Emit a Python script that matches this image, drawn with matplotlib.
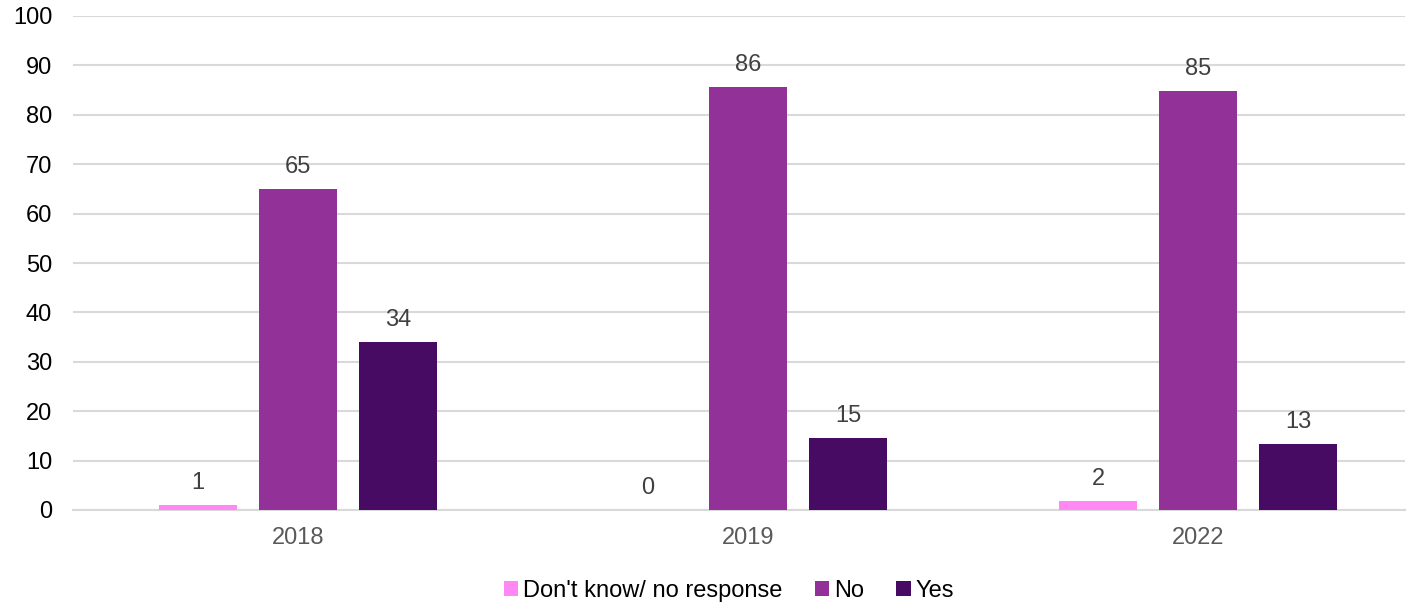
"""Grouped bar chart: Don't know / No / Yes by year."""
import matplotlib.pyplot as plt
import numpy as np

years = ["2018", "2019", "2022"]
dont_know = [1.0, 0.0, 1.8]
no = [65.0, 85.6, 84.8]
yes = [34.0, 14.6, 13.4]

series = [
    ("Don't know/ no response", dont_know, "#ff88f5"),
    ("No", no, "#923198"),
    ("Yes", yes, "#470b63"),
]

plt.rcParams["font.family"] = ["Liberation Sans", "DejaVu Sans"]

fig = plt.figure(figsize=(14.08, 6.02), dpi=100)
ax = fig.add_axes([73 / 1408, 92 / 602, 1332 / 1408, 494 / 602])

x = np.arange(len(years))
width = 0.173
offsets = [-0.222, 0.0, 0.222]

handles = []
for (name, vals, color), off in zip(series, offsets):
    bars = ax.bar(x + off, vals, width, color=color, label=name, zorder=3)
    handles.append(bars)
    for b, v in zip(bars, vals):
        ax.annotate(f"{v:.0f}", (b.get_x() + b.get_width() / 2, v),
                    xytext=(0, 8), textcoords="offset points",
                    ha="center", va="bottom", fontsize=17, color="#404040")

ax.set_xlim(-0.5, 2.46)
ax.set_ylim(0, 100)
ax.set_yticks(range(0, 101, 10))
ax.set_xticks(x)
ax.set_xticklabels(years)

ax.grid(axis="y", color="#d9d9d9", linewidth=1.5, zorder=0)
for s in ["top", "right", "left"]:
    ax.spines[s].set_visible(False)
ax.spines["bottom"].set_color("#d9d9d9")
ax.spines["bottom"].set_linewidth(1.5)
ax.tick_params(axis="y", length=0, pad=15, labelsize=17, labelcolor="#000000")
ax.tick_params(axis="x", length=0, pad=12, labelsize=17, labelcolor="#595959")

fig.legend(handles=handles, loc="center", bbox_to_anchor=(729 / 1408, 11 / 602),
           ncol=3, frameon=False, fontsize=17, handlelength=0.6, handleheight=0.6,
           handletextpad=0.2, columnspacing=1.38)

fig.savefig("out.png", dpi=100)
plt.close(fig)
